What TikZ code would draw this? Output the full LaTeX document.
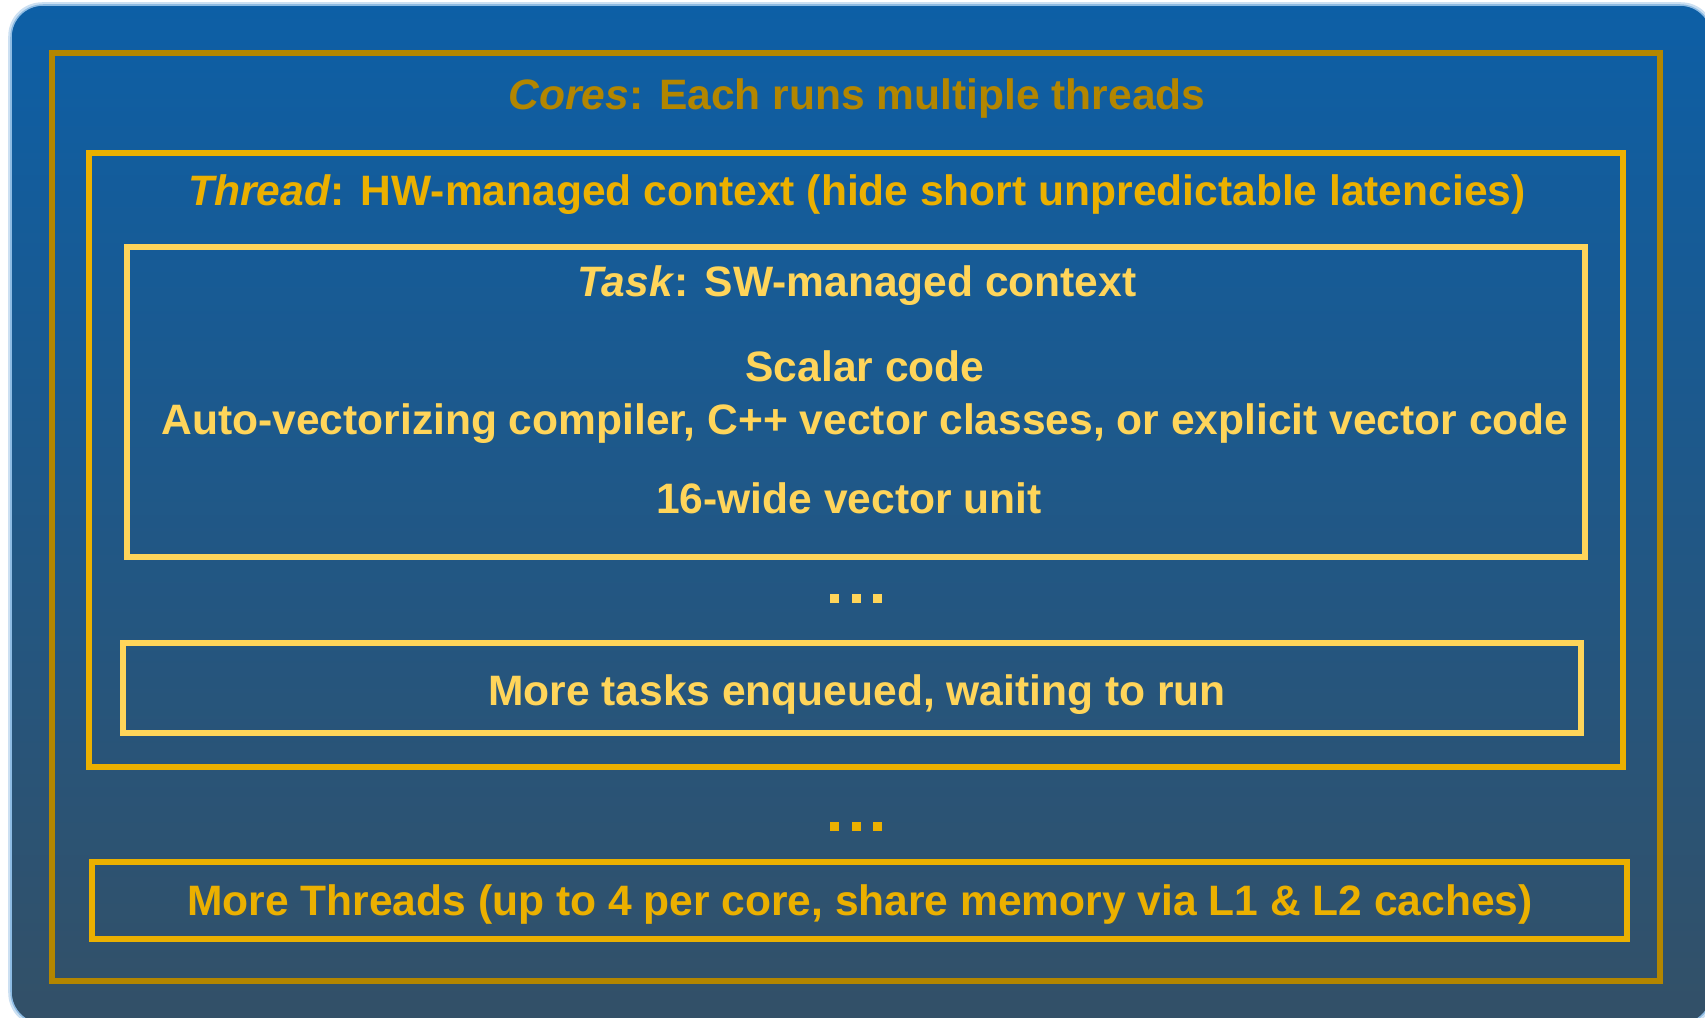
\documentclass[tikz,border=0pt]{standalone}
\usepackage{fontspec}
\setmainfont{Liberation Sans}
\usetikzlibrary{positioning}

\definecolor{panelTop}{HTML}{0D5FA6}
\definecolor{panelBot}{HTML}{335067}
\definecolor{panelEdge}{HTML}{8DBBE3}
\definecolor{coreGold}{HTML}{B38600}
\definecolor{threadGold}{HTML}{EBB000}
\definecolor{taskYellow}{HTML}{FFD55A}

\tikzset{
  px/.style={x=0.01cm,y=-0.01cm},
  frame/.style={draw,line width=0.06cm,inner sep=0pt,fill=none},
  corebox/.style={frame,draw=coreGold},
  threadbox/.style={frame,draw=threadGold},
  taskbox/.style={frame,draw=taskYellow},
  label/.style={font=\fontsize{12.1}{14}\selectfont\bfseries,inner sep=0pt,anchor=base},
  dot/.style={minimum size=0.09cm,inner sep=0pt,outer sep=0pt},
}

\begin{document}
\begin{tikzpicture}[px]
\useasboundingbox (0,0) rectangle (1705,1018);
\begin{scope}
\clip (0,0) rectangle (1705,1018);
% rounded panel with vertical blue gradient and soft light edge
\shade[top color=panelTop,bottom color=panelBot,rounded corners=0.32cm]
  (11,5) rectangle (1712,1024);
\draw[panelEdge,opacity=0.45,line width=0.035cm,rounded corners=0.32cm]
  (10,4) rectangle (1713,1025);
\draw[panelEdge,line width=0.015cm,rounded corners=0.32cm]
  (11,5) rectangle (1712,1024);
\end{scope}

% nested frames
\node[corebox,minimum width=16.08cm,minimum height=9.28cm] (cores) at (856,517) {};
\node[threadbox,minimum width=15.34cm,minimum height=6.14cm] (thread) at (856,460) {};
\node[taskbox,minimum width=14.58cm,minimum height=3.10cm] (task) at (856,402) {};
\node[taskbox,minimum width=14.58cm,minimum height=0.90cm] (queued) at (852,688) {};
\node[threadbox,minimum width=15.35cm,minimum height=0.77cm] (morethreads) at (859.5,900.5) {};

% texts
\node[label,text=coreGold] (tcores) at (857,110) {\textit{Cores}: Each runs multiple threads};
\node[label,text=threadGold] (tthread) at (857,205) {\textit{Thread}: HW-managed context (hide short unpredictable latencies)};
\node[label,text=taskYellow] (ttask) at (857,296) {\textit{Task}: SW-managed context};
\node[label,text=taskYellow] (tscalar) at (865,381.5) {Scalar code};
\node[label,text=taskYellow] (tauto) at (865,434) {Auto-vectorizing compiler, C++ vector classes, or explicit vector code};
\node[label,text=taskYellow] (tvec) at (849,513) {16-wide vector unit};
\node[label,text=taskYellow] (tqueued) at (857,705.5) {More tasks enqueued, waiting to run};
\node[label,text=threadGold] (tmore) at (860,915) {More Threads (up to 4 per core, share memory via L1 \& L2 caches)};

% ellipsis marks
\foreach \i/\x in {1/834.5,2/856,3/877.5}{
  \node[dot,fill=taskYellow] (tdot\i) at (\x,598) {};
  \node[dot,fill=threadGold] (hdot\i) at (\x,826) {};
}
\end{tikzpicture}
\end{document}
